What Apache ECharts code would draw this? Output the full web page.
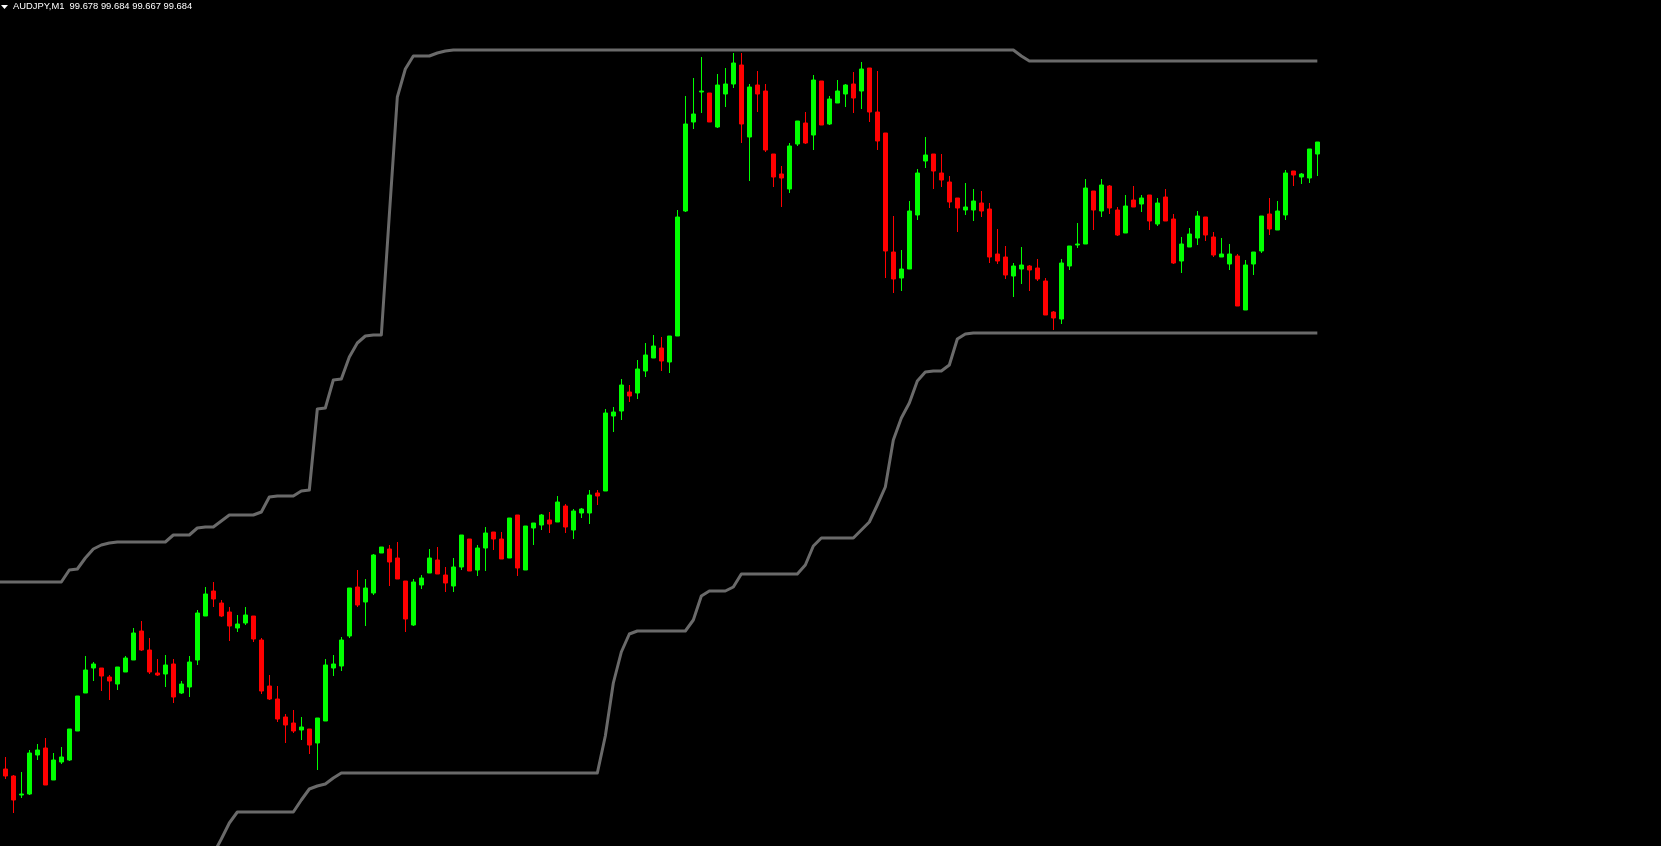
<!DOCTYPE html>
<html>
<head>
<meta charset="utf-8">
<title>AUDJPY,M1</title>
<script src="https://cdn.jsdelivr.net/npm/echarts@6/dist/echarts.min.js"></script>
<style>
  html, body { margin: 0; padding: 0; background: #000; }
  #chart { width: 1661px; height: 846px; }
</style>
</head>
<body>
<div id="chart"></div>
<script>
// AUDJPY M1 bars, oldest first (first slot is the bar just left of the window)
const open = [null,
  99.3705,99.367,99.3575,99.358,99.3775,99.381,99.365,99.374,99.375,99.3895,
  99.4085,99.421,99.421,99.4165,99.413,99.419,99.425,99.4395,99.43,99.4185,
  99.418,99.423,99.4085,99.4115,99.425,99.447,99.4595,99.4535,99.449,99.441,
  99.4435,99.447,99.435,99.412,99.4055,99.3965,99.3935,99.39,99.3905,99.3835,
  99.3945,99.421,99.422,99.437,99.4615,99.454,99.4585,99.4785,99.4805,99.476,
  99.4645,99.4425,99.4625,99.4685,99.475,99.4675,99.462,99.4715,99.4855,99.47,
  99.481,99.489,99.4855,99.476,99.4975,99.47,99.491,99.4925,99.495,99.494,
  99.502,99.49,99.4985,99.4985,99.5085,99.5095,99.547,99.5495,99.559,99.5585,
  99.5695,99.576,99.581,99.574,99.587,99.6495,99.694,99.709,99.7085,99.6915,
  99.708,99.713,99.7225,99.6865,99.7125,99.7095,99.678,99.668,99.6605,99.683,
  99.6935,99.6875,99.7145,99.693,99.7035,99.708,99.713,99.7095,99.721,99.699,
  99.6885,99.629,99.616,99.6205,99.6475,99.6745,99.678,99.6685,99.664,99.656,
  99.65,99.65,99.6535,99.6505,99.628,99.6265,99.617,99.6205,99.622,99.621,
  99.6145,99.599,99.5955,99.622,99.6325,99.633,99.6595,99.6495,99.662,99.65,
  99.6385,99.655,99.653,99.6575,99.643,99.6565,99.6455,99.6245,99.6315,99.636,
  99.6465,99.6365,99.6265,99.623,99.627,99.6,99.623,99.6295,99.648,99.64,
  99.6475,99.6695,99.6665,99.666,99.678
];
const high = [null,
  99.3765,99.3675,99.369,99.38,99.383,99.386,99.3785,99.3815,99.3905,99.407,
  99.427,99.424,99.421,99.4175,99.4215,99.427,99.441,99.4445,99.436,99.4255,
  99.4275,99.4255,99.4145,99.427,99.45,99.4615,99.464,99.455,99.4515,99.4475,
  99.4515,99.447,99.436,99.4175,99.412,99.398,99.4,99.3965,99.3905,99.396,
  99.4255,99.4275,99.4365,99.461,99.47,99.4655,99.478,99.4815,99.4825,99.484,
  99.4645,99.4655,99.4675,99.4805,99.4815,99.4715,99.476,99.4875,99.4855,99.4825,
  99.4915,99.489,99.489,99.496,99.4975,99.492,99.4935,99.498,99.499,99.507,
  99.503,99.5005,99.501,99.51,99.51,99.5505,99.5515,99.5655,99.5625,99.575,
  99.5835,99.5875,99.5865,99.587,99.65,99.707,99.716,99.7265,99.7085,99.718,
  99.721,99.7285,99.7285,99.713,99.7195,99.713,99.678,99.672,99.6835,99.6945,
  99.699,99.7175,99.7145,99.707,99.715,99.713,99.719,99.724,99.721,99.7195,
  99.6885,99.647,99.63,99.6545,99.6705,99.6865,99.678,99.678,99.667,99.656,
  99.6635,99.6605,99.6595,99.6535,99.6405,99.632,99.6235,99.6315,99.6225,99.6255,
  99.616,99.5995,99.6255,99.632,99.6435,99.6655,99.6595,99.6655,99.6625,99.6515,
  99.6575,99.662,99.6575,99.6575,99.656,99.6605,99.648,99.6365,99.641,99.6495,
  99.6465,99.639,99.636,99.633,99.628,99.625,99.629,99.647,99.656,99.6545,
  99.67,99.6695,99.6685,99.6805,99.684
];
const low = [null,
  99.3655,99.3485,99.356,99.3575,99.375,99.3625,99.365,99.373,99.3745,99.3895,
  99.4085,99.4145,99.4095,99.405,99.41,99.419,99.425,99.4295,99.418,99.417,
  99.4115,99.4035,99.408,99.4065,99.4225,99.447,99.4515,99.4465,99.4345,99.439,
  99.4425,99.434,99.408,99.405,99.394,99.3835,99.3885,99.385,99.378,99.37,
  99.3945,99.417,99.4195,99.436,99.4515,99.442,99.4575,99.4785,99.462,99.4655,
  99.439,99.442,99.4605,99.4685,99.468,99.459,99.459,99.47,99.4695,99.467,
  99.4695,99.48,99.4755,99.476,99.467,99.47,99.4825,99.49,99.4885,99.494,
  99.4885,99.4855,99.496,99.493,99.5025,99.5095,99.539,99.545,99.554,99.5555,
  99.5665,99.576,99.5695,99.5685,99.587,99.649,99.6905,99.6985,99.694,99.691,
  99.7015,99.711,99.6835,99.6645,99.699,99.679,99.6615,99.6515,99.6585,99.682,
  99.683,99.68,99.6925,99.6925,99.7035,99.7015,99.6985,99.7005,99.694,99.68,
  99.616,99.6085,99.6095,99.6205,99.645,99.671,99.6605,99.6615,99.651,99.639,
  99.6475,99.6445,99.6465,99.6235,99.623,99.6155,99.6065,99.613,99.6095,99.6145,
  99.5975,99.59,99.593,99.62,99.631,99.633,99.64,99.6465,99.648,99.637,
  99.6385,99.6515,99.649,99.64,99.642,99.6445,99.623,99.6185,99.6315,99.6325,
  99.6345,99.6265,99.6265,99.62,99.602,99.6,99.6175,99.6285,99.6375,99.64,
  99.645,99.662,99.663,99.6635,99.667
];
const close = [null,
  99.367,99.355,99.358,99.3785,99.38,99.3625,99.375,99.3765,99.3905,99.407,
  99.42,99.423,99.417,99.4145,99.4215,99.426,99.4385,99.43,99.419,99.4175,
  99.4225,99.4065,99.413,99.424,99.4485,99.458,99.4555,99.447,99.442,99.443,
  99.4475,99.4355,99.4095,99.4055,99.3955,99.3925,99.3895,99.3915,99.3825,99.396,
  99.4225,99.423,99.435,99.461,99.4525,99.461,99.4775,99.4815,99.474,99.4655,
  99.4455,99.464,99.466,99.476,99.468,99.4635,99.4715,99.4875,99.4695,99.481,
  99.4885,99.4855,99.4755,99.496,99.471,99.492,99.4935,99.4975,99.493,99.504,
  99.4915,99.4995,99.5005,99.5075,99.507,99.5485,99.549,99.5625,99.557,99.5705,
  99.5775,99.582,99.5745,99.587,99.6465,99.693,99.698,99.7095,99.694,99.7125,
  99.713,99.7235,99.693,99.7115,99.708,99.68,99.6665,99.666,99.682,99.6945,
  99.6835,99.715,99.6925,99.7055,99.7095,99.7125,99.706,99.7205,99.699,99.6845,
  99.6295,99.6155,99.6205,99.6495,99.6685,99.6775,99.6695,99.665,99.654,99.651,
  99.6515,99.6545,99.6495,99.6265,99.6245,99.6175,99.622,99.6225,99.62,99.6155,
  99.5975,99.596,99.6235,99.632,99.633,99.661,99.65,99.6625,99.651,99.6375,
  99.652,99.6515,99.656,99.6445,99.6535,99.6445,99.6235,99.633,99.638,99.647,
  99.6375,99.6275,99.628,99.628,99.602,99.6225,99.629,99.647,99.6405,99.6495,
  99.6685,99.6675,99.668,99.6805,99.684
];

// channel lines (upper / lower band)
const upperBand = [99.464,
  99.464,99.464,99.464,99.464,99.464,99.464,99.464,99.464,99.47,99.4705,
  99.476,99.4805,99.4825,99.4835,99.484,99.484,99.484,99.484,99.484,99.484,
  99.484,99.4875,99.4875,99.4875,99.491,99.4915,99.4915,99.4945,99.4975,99.4975,
  99.4975,99.4975,99.499,99.5065,99.507,99.507,99.507,99.5095,99.51,99.5505,
  99.551,99.565,99.5655,99.5765,99.5835,99.587,99.5875,99.5875,99.6475,99.7065,
  99.7205,99.727,99.727,99.727,99.7285,99.7295,99.73,99.73,99.73,99.73,
  99.73,99.73,99.73,99.73,99.73,99.73,99.73,99.73,99.73,99.73,
  99.73,99.73,99.73,99.73,99.73,99.73,99.73,99.73,99.73,99.73,
  99.73,99.73,99.73,99.73,99.73,99.73,99.73,99.73,99.73,99.73,
  99.73,99.73,99.73,99.73,99.73,99.73,99.73,99.73,99.73,99.73,
  99.73,99.73,99.73,99.73,99.73,99.73,99.73,99.73,99.73,99.73,
  99.73,99.73,99.73,99.73,99.73,99.73,99.73,99.73,99.73,99.73,
  99.73,99.73,99.73,99.73,99.73,99.73,99.73,99.727,99.7245,99.7245,
  99.7245,99.7245,99.7245,99.7245,99.7245,99.7245,99.7245,99.7245,99.7245,99.7245,
  99.7245,99.7245,99.7245,99.7245,99.7245,99.7245,99.7245,99.7245,99.7245,99.7245,
  99.7245,99.7245,99.7245,99.7245,99.7245,99.7245,99.7245,99.7245,99.7245,99.7245,
  99.7245,99.7245,99.7245,99.7245,99.7245
];
const lowerBand = [null,
  null,null,null,null,null,null,null,null,null,null,
  null,null,null,null,null,null,null,null,null,null,
  null,null,null,null,null,99.32,99.328,99.3355,99.3435,99.349,
  99.349,99.349,99.349,99.349,99.349,99.349,99.349,99.355,99.3605,99.362,
  99.363,99.366,99.3685,99.3685,99.3685,99.3685,99.3685,99.3685,99.3685,99.3685,
  99.3685,99.3685,99.3685,99.3685,99.3685,99.3685,99.3685,99.3685,99.3685,99.3685,
  99.3685,99.3685,99.3685,99.3685,99.3685,99.3685,99.3685,99.3685,99.3685,99.3685,
  99.3685,99.3685,99.3685,99.3685,99.3685,99.387,99.4135,99.429,99.438,99.4395,
  99.4395,99.4395,99.4395,99.4395,99.4395,99.4395,99.445,99.457,99.4595,99.4595,
  99.4595,99.4615,99.468,99.468,99.468,99.468,99.468,99.468,99.468,99.468,
  99.4725,99.482,99.486,99.486,99.486,99.486,99.486,99.49,99.494,99.5025,
  99.5115,99.535,99.546,99.5535,99.5645,99.569,99.5695,99.5695,99.5725,99.5855,
  99.588,99.5885,99.5885,99.5885,99.5885,99.5885,99.5885,99.5885,99.5885,99.5885,
  99.5885,99.5885,99.5885,99.5885,99.5885,99.5885,99.5885,99.5885,99.5885,99.5885,
  99.5885,99.5885,99.5885,99.5885,99.5885,99.5885,99.5885,99.5885,99.5885,99.5885,
  99.5885,99.5885,99.5885,99.5885,99.5885,99.5885,99.5885,99.5885,99.5885,99.5885,
  99.5885,99.5885,99.5885,99.5885,99.5885
];

const header = 'AUDJPY,M1  99.678 99.684 99.667 99.684';

// bar number of each slot: the first slot sits just left of the window
const barNo = open.map((_, i) => i - 1);

const chart = echarts.init(document.getElementById('chart'));

const candles = [];
open.forEach((o, i) => {
  if (o !== null) candles.push([barNo[i], o, close[i], low[i], high[i]]);
});
const upperPts = upperBand.map((v, i) => [barNo[i], v]);
const lowerPts = lowerBand.map((v, i) => [barNo[i], v]);

const options = {
  backgroundColor: '#000000',
  animation: false,
  grid: { left: 0, top: 0, right: 0, bottom: 0, containLabel: false },
  xAxis: {
    type: 'value',
    min: -0.666,
    max: 206.96,
    show: false,
    splitLine: { show: false }
  },
  yAxis: {
    type: 'value',
    min: 99.332,
    max: 99.755,
    show: false,
    splitLine: { show: false }
  },
  graphic: [
    {
      type: 'polygon',
      shape: { points: [[1, 5], [8, 5], [4.5, 9]] },
      style: { fill: '#ffffff' }
    },
    {
      type: 'text',
      left: 13,
      top: 2,
      style: {
        text: header,
        fill: '#ffffff',
        font: '9.4px "Liberation Sans", Arial, sans-serif'
      }
    }
  ],
  series: [
    {
      type: 'candlestick',
      data: candles,
      encode: { x: 0, y: [1, 2, 3, 4] },
      barWidth: 4,
      itemStyle: {
        color: '#00ff00',
        color0: '#ff0000',
        borderColor: '#00ff00',
        borderColor0: '#ff0000',
        borderWidth: 1
      }
    },
    {
      type: 'line',
      data: upperPts,
      symbol: 'none',
      smooth: false,
      clip: true,
      lineStyle: { color: '#6a6a6a', width: 3, join: 'round' }
    },
    {
      type: 'line',
      data: lowerPts,
      symbol: 'none',
      smooth: false,
      clip: true,
      lineStyle: { color: '#6a6a6a', width: 3, join: 'round' }
    }
  ]
};

chart.setOption(options);
</script>
</body>
</html>
